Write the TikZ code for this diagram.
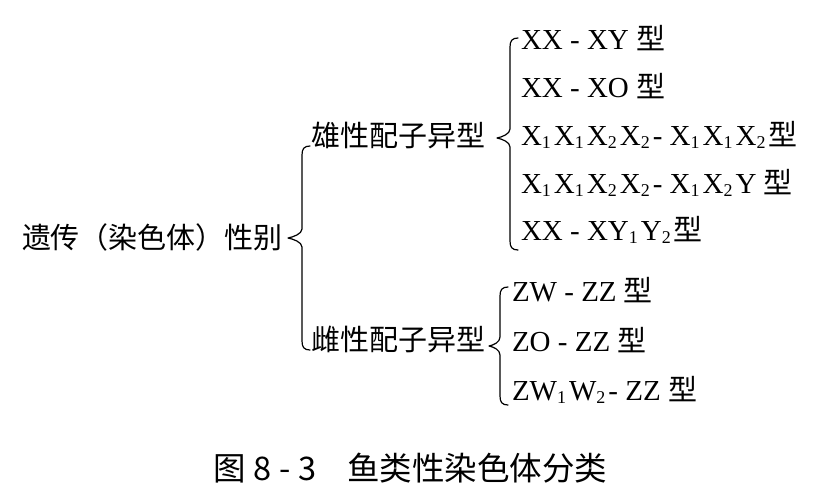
\documentclass[tikz,border=0pt]{standalone}
\usepackage{fontspec}
\setmainfont{Liberation Serif}
\newfontfamily\cjk{Noto Sans CJK SC}
\newcommand\sbx[1]{\raisebox{-3pt}{\fontsize{18}{18}\selectfont #1}\kern3pt}
\newcommand\xing{{\cjk 型}}
\newcommand\curlybrace[5]{%
  \draw[bracestyle] (#1+8,#2) .. controls (#1+2,#2) and (#1,#2+3) .. (#1,#2+9)
    -- (#1,#4-9) .. controls (#1,#4-4) and (#3+5,#4-1) .. (#3,#4)
    .. controls (#3+5,#4+1) and (#1,#4+4) .. (#1,#4+9)
    -- (#1,#5-9) .. controls (#1,#5-3) and (#1+2,#5) .. (#1+8,#5);}
\begin{document}
\begin{tikzpicture}[x=1pt,y=-1pt,
  every node/.style={inner sep=0pt, outer sep=0pt},
  txt/.style={anchor=base west, font=\fontsize{29}{29}\selectfont},
  cn/.style={anchor=base west, font=\cjk\fontsize{29}{29}\selectfont},
  captext/.style={anchor=base west, font=\cjk\fontsize{32.5}{32.5}\selectfont},
  bracestyle/.style={line width=1.2pt, line cap=round, line join=round}]
\useasboundingbox[fill=white] (0,0) rectangle (823,499);
% root and level 1
\node[cn] (root) at (22,248) {遗传（染色体）性别};
\node[cn] (male) at (311,146) {雄性配子异型};
\node[cn] (female) at (311,350) {雌性配子异型};
% male heterogametic types
\node[txt] (x1) at (521,49) {XX - XY \xing};
\node[txt] (x2) at (521,97) {XX - XO \xing};
\node[txt] (x3) at (521,145) {X\sbx{1}X\sbx{1}X\sbx{2}X\sbx{2}- X\sbx{1}X\sbx{1}X\sbx{2}\xing};
\node[txt] (x4) at (521,193) {X\sbx{1}X\sbx{1}X\sbx{2}X\sbx{2}- X\sbx{1}X\sbx{2}Y \xing};
\node[txt] (x5) at (521,240) {XX - XY\sbx{1}Y\sbx{2}\xing};
% female heterogametic types
\node[txt] (z1) at (512,301) {ZW - ZZ \xing};
\node[txt] (z2) at (512,351) {ZO - ZZ \xing};
\node[txt] (z3) at (512,400) {ZW\sbx{1}W\sbx{2}- ZZ \xing};
% braces
\curlybrace{302}{146}{288}{238}{350}
\curlybrace{510}{38}{497}{138}{250}
\curlybrace{500}{287}{489}{346}{405}
% caption
\node[captext] (capa) at (213,480) {图\kern8pt 8\kern8pt -\kern8pt 3};
\node[captext] (capb) at (347,480) {鱼类性染色体分类};
\end{tikzpicture}
\end{document}
